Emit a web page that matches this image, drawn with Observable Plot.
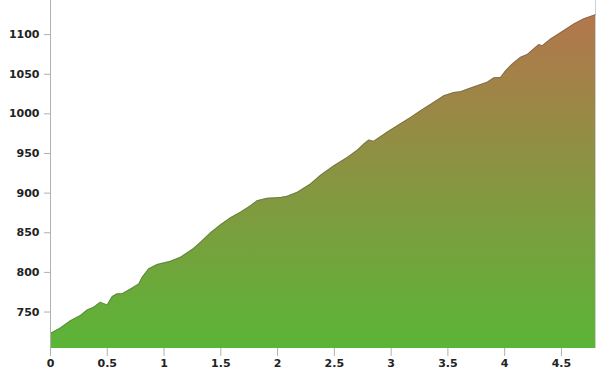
<!DOCTYPE html>
<html>
<head>
<meta charset="utf-8">
<script src="https://cdn.jsdelivr.net/npm/d3@7"></script>
<script src="https://cdn.jsdelivr.net/npm/@observablehq/plot@0.6"></script>
<style>
  html, body { margin: 0; padding: 0; background: #fff; }
  #chart svg g[aria-label="y-axis tick"] path,
  #chart svg g[aria-label="x-axis tick"] path { stroke: #b0b0b0; }
</style>
</head>
<body>
<div id="chart"></div>
<script>
const distances = [0.00, 0.088, 0.176, 0.264, 0.323, 0.381, 0.44, 0.50, 0.544, 0.588, 0.632, 0.705, 0.778, 0.808, 0.866, 0.94, 1.057, 1.145, 1.26, 1.322, 1.41, 1.498, 1.586, 1.674, 1.762, 1.82, 1.909, 2.026, 2.085, 2.174, 2.29, 2.379, 2.496, 2.614, 2.702, 2.76, 2.804, 2.848, 2.967, 3.055, 3.172, 3.26, 3.377, 3.465, 3.553, 3.612, 3.70, 3.789, 3.847, 3.906, 3.965, 4.009, 4.068, 4.141, 4.2, 4.258, 4.302, 4.332, 4.405, 4.522, 4.61, 4.699, 4.80];
const elevations = [723, 730, 739, 745.5, 752.5, 756, 762.5, 759, 769.5, 773, 773, 779, 785.5, 794, 804.5, 810, 814, 819, 830, 838, 850, 860, 869, 876, 884, 890.5, 893.5, 894.5, 896, 901, 911.5, 922.5, 934.5, 945, 954, 962, 967, 965.5, 977, 985, 995.5, 1004, 1014.5, 1023, 1027, 1028, 1032.5, 1037, 1040, 1045.5, 1046, 1054.5, 1063, 1071.5, 1075, 1082, 1087.5, 1086, 1094.5, 1105, 1113.5, 1120, 1125];
const xTicks = [0, 0.5, 1, 1.5, 2, 2.5, 3, 3.5, 4, 4.5];
const yTicks = [750, 800, 850, 900, 950, 1000, 1050, 1100];
const xDomain = [0, 4.8];
const yDomain = [704, 1143];
const topColor = "#b4764c";
const bottomColor = "#5ab536";

const profile = distances.map((d, i) => ({distance: d, elevation: elevations[i]}));

const gradientDefs = () => {
  const defs = d3.create("svg:defs");
  const g = defs.append("linearGradient")
    .attr("id", "elevGrad")
    .attr("x1", 0).attr("y1", 0).attr("x2", 0).attr("y2", 1);
  g.append("stop").attr("offset", "0%").attr("stop-color", topColor);
  g.append("stop").attr("offset", "100%").attr("stop-color", bottomColor);
  return defs.node();
};

const chart = Plot.plot({
  width: 600,
  height: 373,
  marginTop: 0,
  marginLeft: 50,
  marginRight: 5,
  marginBottom: 25,
  style: {fontFamily: "DejaVu Sans, sans-serif", fontSize: "11px", fontWeight: "bold", color: "#222", background: "#fff"},
  x: {domain: xDomain, ticks: xTicks, tickSize: 8, tickPadding: 3, label: null, tickFormat: d => String(d)},
  y: {domain: yDomain, ticks: yTicks, tickSize: 6, tickPadding: 5, label: null, tickFormat: d => String(d)},
  marks: [
    gradientDefs,
    Plot.ruleX([xDomain[1]], {stroke: "#d0d0d0", strokeWidth: 1}),
    Plot.areaY(profile, {x: "distance", y1: yDomain[0], y2: "elevation", fill: "url(#elevGrad)"}),
    Plot.lineY(profile, {x: "distance", y: "elevation", stroke: "#555", strokeOpacity: 0.45, strokeWidth: 1}),
    Plot.ruleX([xDomain[0]], {stroke: "#b0b0b0", strokeWidth: 1})
  ]
});
document.getElementById("chart").appendChild(chart);
</script>
</body>
</html>
